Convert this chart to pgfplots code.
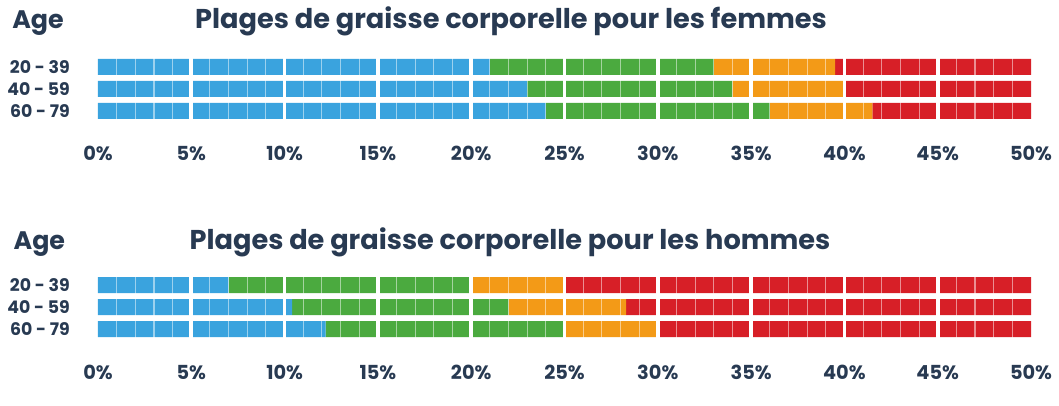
\documentclass[border=0pt]{standalone}
\usepackage{pgfplots}
\pgfplotsset{compat=1.18}
\usepackage{pgfplotstable}
\usepackage{fontspec}
\setmainfont{Poppins}
\definecolor{cblue}{HTML}{3AA3DE}
\definecolor{cgreen}{HTML}{4BAA3F}
\definecolor{corange}{HTML}{F39A17}
\definecolor{cred}{HTML}{D71F27}
\definecolor{ctext}{HTML}{283A52}

\pgfplotstableread{
y a b c d
0 21 12 6.5 10.5
1 23 11 6 10
2 24 12 5.5 8.5
}\women
\pgfplotstableread{
y a b c d
0 7 13 5 25
1 10.4 11.6 6.3 21.7
2 12.2 12.8 5 20
}\men

\pgfplotsset{bfstyle/.style={
  scale only axis, width=699.75pt, height=49.5pt, anchor=north west,
  xmin=0, xmax=50, ymin=-0.5, ymax=2.5, y dir=reverse,
  xbar stacked, bar width=12pt,
  axis on top, axis line style={draw=none}, tick style={draw=none},
  xtick={0,5,...,50},
  xticklabels={0\%,5\%,10\%,15\%,20\%,25\%,30\%,35\%,40\%,45\%,50\%},
  minor x tick num=4, xminorgrids=true,
  minor grid style={white, opacity=0.5, line width=0.8pt},
  extra x ticks={5,10,...,45}, extra x tick labels={},
  extra x tick style={grid=major},
  major grid style={white, line width=2.8pt},
  ytick={0,1,2}, yticklabels={20 - 39,40 - 59,60 - 79},
  xticklabel style={anchor=base, yshift=-29.25pt, inner sep=0pt,
    font=\bfseries\fontsize{14.5}{16}\selectfont, text=ctext},
  yticklabel style={anchor=east, xshift=-21pt, inner sep=0pt,
    font=\bfseries\fontsize{13}{15}\selectfont, text=ctext},
}}

\begin{document}
\begin{tikzpicture}
\path (0,0) rectangle (794.25pt,-304.5pt);
\node[anchor=base west, text=ctext, font=\bfseries\fontsize{19}{21}\selectfont, inner sep=0pt] at (9pt,-21.75pt) {Age};
\node[anchor=base, text=ctext, font=\bfseries\fontsize{20.4}{23}\selectfont, inner sep=0pt] at (383.25pt,-21.75pt) {Plages de graisse corporelle pour les femmes};
\node[anchor=base west, text=ctext, font=\bfseries\fontsize{19}{21}\selectfont, inner sep=0pt] at (10pt,-186.75pt) {Age};
\node[anchor=base, text=ctext, font=\bfseries\fontsize{20.4}{23}\selectfont, inner sep=0pt] at (382.5pt,-186.75pt) {Plages de graisse corporelle pour les hommes};

\begin{axis}[bfstyle, at={(73.5pt,-42pt)}]
\addplot[fill=cblue, draw=none] table[x=a,y=y]{\women};
\addplot[fill=cgreen, draw=none] table[x=b,y=y]{\women};
\addplot[fill=corange, draw=none] table[x=c,y=y]{\women};
\addplot[fill=cred, draw=none] table[x=d,y=y]{\women};
\end{axis}

\begin{axis}[bfstyle, at={(73.5pt,-205.5pt)}]
\addplot[fill=cblue, draw=none] table[x=a,y=y]{\men};
\addplot[fill=cgreen, draw=none] table[x=b,y=y]{\men};
\addplot[fill=corange, draw=none] table[x=c,y=y]{\men};
\addplot[fill=cred, draw=none] table[x=d,y=y]{\men};
\end{axis}
\end{tikzpicture}
\end{document}
